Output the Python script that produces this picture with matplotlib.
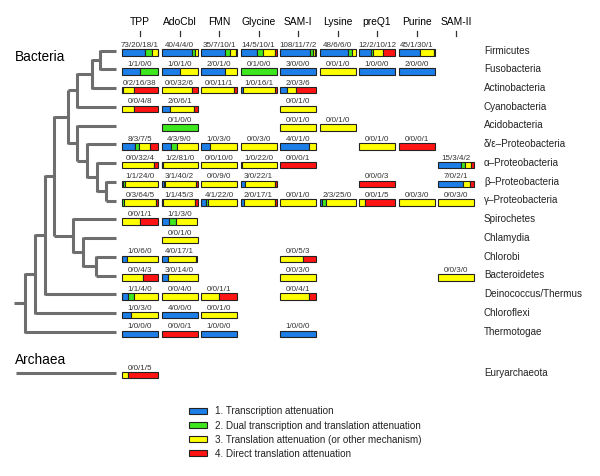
import matplotlib
matplotlib.use('Agg')
from matplotlib import pyplot as plt

plt.rcParams['font.family'] = ['Liberation Sans', 'DejaVu Sans']

riboswitches = ['TPP', 'AdoCbl', 'FMN', 'Glycine', 'SAM-I', 'Lysine', 'preQ1', 'Purine', 'SAM-II']

taxa = ['Firmicutes', 'Fusobacteria', 'Actinobacteria', 'Cyanobacteria', 'Acidobacteria',
        'δ/ε–Proteobacteria', 'α–Proteobacteria', 'β–Proteobacteria', 'γ–Proteobacteria',
        'Spirochetes', 'Chlamydia', 'Chlorobi', 'Bacteroidetes', 'Deinococcus/Thermus',
        'Chloroflexi', 'Thermotogae', 'Euryarchaeota']

# counts per mechanism: transcription / dual / translation / direct translation
# one row per taxon, one entry per riboswitch ('' = not found)
counts = [
    ['73/20/18/1', '40/4/4/0', '35/7/10/1', '14/5/10/1', '108/11/7/2', '48/6/6/0', '12/2/10/12', '45/1/30/1', ''],
    ['1/1/0/0', '1/0/1/0', '2/0/1/0', '0/1/0/0', '3/0/0/0', '0/0/1/0', '1/0/0/0', '2/0/0/0', ''],
    ['0/2/16/38', '0/0/32/6', '0/0/11/1', '1/0/16/1', '2/0/3/6', '', '', '', ''],
    ['0/0/4/8', '2/0/6/1', '', '', '0/0/1/0', '', '', '', ''],
    ['', '0/1/0/0', '', '', '0/0/1/0', '0/0/1/0', '', '', ''],
    ['8/3/7/5', '4/3/9/0', '1/0/3/0', '0/0/3/0', '4/0/1/0', '', '0/0/1/0', '0/0/0/1', ''],
    ['0/0/32/4', '1/2/81/0', '0/0/10/0', '1/0/22/0', '0/0/0/1', '', '', '', '15/3/4/2'],
    ['1/1/24/0', '3/1/40/2', '0/0/9/0', '3/0/22/1', '', '', '0/0/0/3', '', '7/0/2/1'],
    ['0/3/64/5', '1/1/45/3', '4/1/22/0', '2/0/17/1', '0/0/1/0', '2/3/25/0', '0/0/1/5', '0/0/3/0', '0/0/3/0'],
    ['0/0/1/1', '1/1/3/0', '', '', '', '', '', '', ''],
    ['', '0/0/1/0', '', '', '', '', '', '', ''],
    ['1/0/6/0', '4/0/17/1', '', '', '0/0/5/3', '', '', '', ''],
    ['0/0/4/3', '3/0/14/0', '', '', '0/0/3/0', '', '', '', '0/0/3/0'],
    ['1/1/4/0', '0/0/4/0', '0/0/1/1', '', '0/0/4/1', '', '', '', ''],
    ['1/0/3/0', '4/0/0/0', '0/0/1/0', '', '', '', '', '', ''],
    ['1/0/0/0', '0/0/0/1', '1/0/0/0', '', '1/0/0/0', '', '', '', ''],
    ['0/0/1/5', '', '', '', '', '', '', '', ''],
]

mechanisms = ['1. Transcription attenuation',
              '2. Dual transcription and translation attenuation',
              '3. Translation attenuation (or other mechanism)',
              '4. Direct translation attenuation']
colors = ['#1c7ee6', '#3ee620', '#ffff00', '#ff1414']

# bacterial tree: (node depth, children), leaves are taxon indices
tree = (25, [(35, [(45, [(54, [(68, [(77, [(92, [(100, [0, 1]), 2]), 3]),
                                     (77, [4, (87, [5, (97, [6, (106, [7, 8])])])])]),
                               (73, [9, (83, [10, (96, [11, 12])])])]),
                         13]),
                   14]),
             15])

fig = plt.figure(figsize=(6, 4.77), dpi=100)
ax = fig.add_axes([0, 0, 1, 1])
ax.set_xlim(0, 600)
ax.set_ylim(477, 0)
ax.axis('off')

row_y = [51.5 + 18.75 * i for i in range(16)] + [374]
col_x = [122 + 39.5 * j for j in range(len(riboswitches))]
bar_w = 36
tree_color = '#6e6e6e'
leaf_end = 116


def draw_node(node):
    if isinstance(node, int):
        return row_y[node]
    x, children = node
    ys = []
    for child in children:
        cy = draw_node(child)
        cx = child[0] if isinstance(child, tuple) else leaf_end
        ax.plot([x, cx], [cy, cy], color=tree_color, lw=2.2, solid_capstyle='butt')
        ys.append(cy)
    ax.plot([x, x], [min(ys) - 0.8, max(ys) + 0.8], color=tree_color, lw=2.2, solid_capstyle='butt')
    return (min(ys) + max(ys)) / 2


root_y = draw_node(tree)
ax.plot([14, tree[0]], [root_y, root_y], color=tree_color, lw=2.2, solid_capstyle='butt')
ax.plot([16, leaf_end], [row_y[16], row_y[16]], color=tree_color, lw=2.2, solid_capstyle='butt')

ax.text(15, 57, 'Bacteria', fontsize=9.8, va='center', ha='left')
ax.text(15, 360, 'Archaea', fontsize=9.8, va='center', ha='left')

# column headers
for j, name in enumerate(riboswitches):
    cx = col_x[j] + bar_w / 2
    ax.text(cx, 22, name, fontsize=7.4, ha='center', va='center')
    ax.plot([cx, cx], [32, 37], color='#333333', lw=0.9)

# taxon labels
for i, name in enumerate(taxa):
    ax.text(484, row_y[i] - 1, name, fontsize=7.1, ha='left', va='center', color='#222222')

# stacked bars
for i, row in enumerate(counts):
    y = row_y[i] + 2
    for j, label in enumerate(row):
        if not label:
            continue
        vals = [int(v) for v in label.split('/')]
        total = sum(vals)
        left = col_x[j]
        for k, v in enumerate(vals):
            if v == 0:
                continue
            w = bar_w * v / total
            ax.barh(y, w, left=left, height=6.5, color=colors[k],
                    edgecolor='#222222', linewidth=0.8)
            left += w
        ax.text(col_x[j] + bar_w / 2, y - 4.4, label, fontsize=5.8,
                ha='center', va='bottom', color='#333333')

# legend
for k, name in enumerate(mechanisms):
    y = 411.5 + 14.2 * k
    ax.barh(y, 18, left=189, height=6, color=colors[k], edgecolor='#222222', linewidth=0.8)
    ax.text(215, y, name, fontsize=7.1, ha='left', va='center', color='#222222')

fig.savefig('out.png', dpi=100)
